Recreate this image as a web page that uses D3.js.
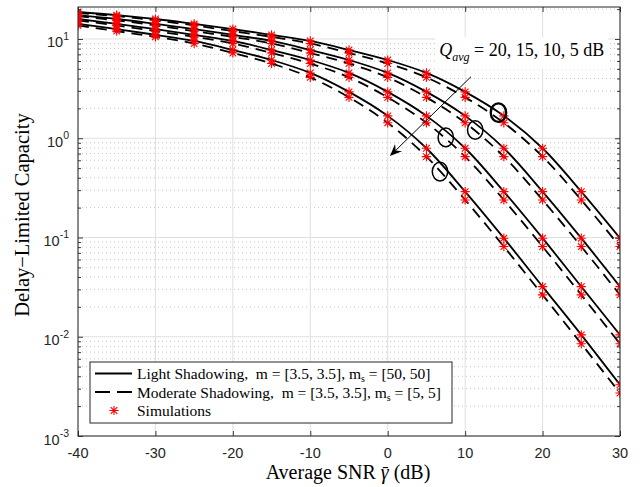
<!DOCTYPE html>
<html><head><meta charset="utf-8">
<script src="https://cdn.jsdelivr.net/npm/d3@7"></script>
<style>body{margin:0;background:#fff;} svg{display:block;}</style>
</head><body>
<svg id="c" width="643" height="487"></svg>
<script>
// ---------- data ----------
const snr = [-40,-35,-30,-25,-20,-15,-10,-5,0,5,10,15,20,25,30];
const qAvg = [20,15,10,5];
const light20    = [18.7,17.4,15.9,14.2,12.6,11.0,9.55,7.75,6.14,4.55,2.93,1.68,0.793,0.290,0.0984];
const moderate20 = [18.3,17.0,15.4,13.7,12.0,10.5,9.01,7.23,5.66,4.10,2.58,1.43,0.653,0.239,0.081];
const light15    = [17.4,15.9,14.2,12.6,11.0,9.55,7.75,6.14,4.55,2.93,1.68,0.793,0.290,0.0984,0.0320];
const moderate15 = [17.0,15.4,13.7,12.0,10.5,9.01,7.23,5.66,4.10,2.58,1.43,0.653,0.239,0.081,0.0264];
const light10    = [15.9,14.2,12.6,11.0,9.55,7.75,6.14,4.55,2.93,1.68,0.793,0.290,0.0984,0.0320,0.01045];
const moderate10 = [15.4,13.7,12.0,10.5,9.01,7.23,5.66,4.10,2.58,1.43,0.653,0.239,0.081,0.0264,0.00849];
const light5     = [14.2,12.6,11.0,9.55,7.75,6.14,4.55,2.93,1.68,0.793,0.290,0.0984,0.0320,0.01045,0.00328];
const moderate5  = [13.7,12.0,10.5,9.01,7.23,5.66,4.10,2.58,1.43,0.653,0.239,0.081,0.0264,0.00849,0.00271];
const xTickValues = [-40,-30,-20,-10,0,10,20,30];
const yTickExponents = [-3,-2,-1,0,1];
const circleX = [14.3,11.3,7.5,6.75];
const circleY = [1.81,1.21,1.02,0.461];
const arrowStart = [10.76,4.17];
const arrowEnd = [0.29,0.662];
const annotPos = [17.3,6.74];
const legendLabels = [
  ["Light Shadowing,\u00A0\u00A0m = [3.5, 3.5], m","s"," = [50, 50]"],
  ["Moderate Shadowing,\u00A0\u00A0m = [3.5, 3.5], m","s"," = [5, 5]"],
  ["Simulations","",""]
];

// ---------- layout ----------
const W=643,H=487, L=78, R=620, T=7, B=436;
const svg=d3.select("#c");
const x=d3.scaleLinear().domain([-40,30]).range([L,R]);
const y=d3.scaleLog().domain([1e-3,21]).range([B,T]);
const axisColor="#262626";
const serif="'Liberation Serif','Times New Roman',serif";
const sans="'Liberation Sans',Arial,Helvetica,sans-serif";
const dash="11,7";

svg.append("defs").append("clipPath").attr("id","clip")
  .append("rect").attr("x",L).attr("y",T).attr("width",R-L).attr("height",B-T);

// grid
const minorVals=[];
for(let e=-3;e<=1;e++) for(let k=2;k<=9;k++){const v=k*Math.pow(10,e); if(v<21) minorVals.push(v);}
const grid=svg.append("g");
grid.selectAll(".mn").data(minorVals).join("line")
  .attr("x1",L).attr("x2",R).attr("y1",d=>y(d)).attr("y2",d=>y(d))
  .attr("stroke","#c4c4c4").attr("stroke-width",1).attr("stroke-dasharray","1,3");
grid.selectAll(".mj").data(yTickExponents.map(e=>Math.pow(10,e))).join("line")
  .attr("x1",L).attr("x2",R).attr("y1",d=>y(d)).attr("y2",d=>y(d))
  .attr("stroke","#dfdfdf").attr("stroke-width",1);
grid.selectAll(".vx").data(xTickValues).join("line")
  .attr("x1",d=>x(d)).attr("x2",d=>x(d)).attr("y1",T).attr("y2",B)
  .attr("stroke","#dfdfdf").attr("stroke-width",1);

// curves
const series=[
  {q:qAvg[0],light:light20,moderate:moderate20},
  {q:qAvg[1],light:light15,moderate:moderate15},
  {q:qAvg[2],light:light10,moderate:moderate10},
  {q:qAvg[3],light:light5,moderate:moderate5}
];
const line=d3.line().x((d,i)=>x(snr[i])).y(d=>y(d)).curve(d3.curveCatmullRom.alpha(0.5));
const plot=svg.append("g").attr("clip-path","url(#clip)");
series.forEach(s=>{
  plot.append("path").attr("d",line(s.moderate)).attr("fill","none")
    .attr("stroke","#000").attr("stroke-width",1.8).attr("stroke-dasharray",dash);
  plot.append("path").attr("d",line(s.light)).attr("fill","none")
    .attr("stroke","#000").attr("stroke-width",1.8);
});
function starPath(cx,cy,r){
  const d=r*0.72;
  return `M${cx-r},${cy}L${cx+r},${cy}M${cx},${cy-r}L${cx},${cy+r}`+
         `M${cx-d},${cy-d}L${cx+d},${cy+d}M${cx-d},${cy+d}L${cx+d},${cy-d}`;
}
series.forEach(s=>{
  [s.light,s.moderate].forEach(arr=>{
    plot.append("g").selectAll("path").data(arr).join("path")
      .attr("d",(d,i)=>starPath(x(snr[i]),y(d),4.6))
      .attr("stroke","#ff0000").attr("stroke-width",1.1).attr("fill","none");
  });
});

// circles
plot.selectAll(".circ").data(circleX).join("ellipse")
  .attr("cx",d=>x(d)).attr("cy",(d,i)=>y(circleY[i]))
  .attr("rx",7.7).attr("ry",9.3).attr("fill","none").attr("stroke","#000")
  .attr("stroke-width",(d,i)=>i===0?2.3:1.5);

// arrow
const ax0=x(arrowStart[0]), ay0=y(arrowStart[1]), ax1=x(arrowEnd[0]), ay1=y(arrowEnd[1]);
const ang=Math.atan2(ay1-ay0,ax1-ax0);
const ux=Math.cos(ang), uy=Math.sin(ang), px=-uy, py=ux;
const hl=12, hw=5, nd=8;
svg.append("line").attr("x1",ax0).attr("y1",ay0).attr("x2",ax1-ux*nd).attr("y2",ay1-uy*nd)
  .attr("stroke","#000").attr("stroke-width",1);
svg.append("path").attr("d",
  `M${ax1},${ay1}L${ax1-ux*hl+px*hw},${ay1-uy*hl+py*hw}L${ax1-ux*nd},${ay1-uy*nd}L${ax1-ux*hl-px*hw},${ay1-uy*hl-py*hw}Z`)
  .attr("fill","#000");

// annotation text with white box
const ag=svg.append("g");
const abox=ag.append("rect").attr("fill","#fff");
const at=ag.append("text").attr("x",x(annotPos[0])).attr("y",y(annotPos[1]))
  .attr("text-anchor","middle").attr("font-family",serif).attr("font-size",18).attr("fill","#000");
at.append("tspan").attr("font-style","italic").text("Q");
at.append("tspan").attr("font-style","italic").attr("font-size",12).attr("dy",5).text("avg");
at.append("tspan").attr("dy",-5).text(" = 20, 15, 10, 5 dB");
const bb=at.node().getBBox();
abox.attr("x",bb.x-4).attr("y",bb.y-3).attr("width",bb.width+8).attr("height",bb.height+8);

// axes (inner ticks)
const majorY=yTickExponents.map(e=>Math.pow(10,e));
const axG=svg.append("g").attr("color",axisColor);
axG.append("g").attr("transform",`translate(0,${B})`)
  .call(d3.axisBottom(x).tickValues(xTickValues).tickSize(-5).tickFormat("").tickSizeOuter(0));
axG.append("g").attr("transform",`translate(0,${T})`)
  .call(d3.axisTop(x).tickValues(xTickValues).tickSize(-5).tickFormat("").tickSizeOuter(0));
axG.append("g").attr("transform",`translate(${L},0)`)
  .call(d3.axisLeft(y).tickValues(majorY).tickSize(-5).tickFormat("").tickSizeOuter(0));
axG.append("g").attr("transform",`translate(${L},0)`)
  .call(d3.axisLeft(y).tickValues(minorVals).tickSize(-3).tickFormat("").tickSizeOuter(0));
axG.append("g").attr("transform",`translate(${R},0)`)
  .call(d3.axisRight(y).tickValues(majorY).tickSize(-5).tickFormat("").tickSizeOuter(0));
axG.append("g").attr("transform",`translate(${R},0)`)
  .call(d3.axisRight(y).tickValues(minorVals).tickSize(-3).tickFormat("").tickSizeOuter(0));
axG.selectAll(".domain").remove();
axG.selectAll("line").attr("stroke",axisColor).attr("stroke-width",0.9);
svg.append("rect").attr("x",L).attr("y",T).attr("width",R-L).attr("height",B-T)
  .attr("fill","none").attr("stroke",axisColor).attr("stroke-width",1);

// tick labels
svg.append("g").selectAll("text").data(xTickValues).join("text")
  .attr("x",d=>x(d)).attr("y",B+22).attr("text-anchor","middle")
  .attr("font-family",sans).attr("font-size",14.5).attr("fill",axisColor)
  .text(d=>String(d));
const yl=svg.append("g").selectAll("text").data(yTickExponents).join("text")
  .attr("x",69).attr("y",d=>y(Math.pow(10,d))+8.5).attr("text-anchor","end")
  .attr("font-family",sans).attr("font-size",14.5).attr("fill",axisColor);
yl.append("tspan").text("10");
yl.append("tspan").attr("font-size",10.5).attr("dy",-7.5).text(d=>String(d));

// axis titles
const xPre="Average SNR ";
const xt=svg.append("text").attr("x",(L+R)/2-1).attr("y",479).attr("text-anchor","middle")
  .attr("font-family",serif).attr("font-size",20).attr("fill","#000");
xt.append("tspan").text(xPre);
xt.append("tspan").attr("font-style","italic").text("\u03B3");
xt.append("tspan").text("\u00A0(dB)");
const gx=xt.node().getExtentOfChar(xPre.length);
svg.append("line").attr("x1",gx.x+2).attr("x2",gx.x+gx.width-0.5)
  .attr("y1",gx.y+gx.height*0.3).attr("y2",gx.y+gx.height*0.3)
  .attr("stroke","#000").attr("stroke-width",1.1);
svg.append("text").attr("transform","translate(29,215) rotate(-90)").attr("text-anchor","middle")
  .attr("font-family",serif).attr("font-size",20.5).attr("fill","#000")
  .text("Delay\u2212Limited Capacity");

// legend
const lg=svg.append("g");
lg.append("rect").attr("x",90).attr("y",362).attr("width",362).attr("height",61)
  .attr("fill","#fff").attr("stroke",axisColor).attr("stroke-width",1);
const rowY=[373.5,392,410.5];
lg.append("line").attr("x1",95).attr("x2",132).attr("y1",rowY[0]).attr("y2",rowY[0])
  .attr("stroke","#000").attr("stroke-width",1.8);
lg.append("line").attr("x1",95).attr("x2",132).attr("y1",rowY[1]).attr("y2",rowY[1])
  .attr("stroke","#000").attr("stroke-width",1.8).attr("stroke-dasharray","15,7");
lg.append("path").attr("d",starPath(114,rowY[2],4.6)).attr("stroke","#ff0000")
  .attr("stroke-width",1.1).attr("fill","none");
legendLabels.forEach((lab,i)=>{
  const t=lg.append("text").attr("x",137).attr("y",rowY[i]+5.5)
    .attr("font-family",serif).attr("font-size",15.5).attr("fill","#000");
  t.append("tspan").text(lab[0]);
  if(lab[1]){
    t.append("tspan").attr("font-size",10).attr("dy",3).text(lab[1]);
    t.append("tspan").attr("dy",-3).text(lab[2]);
  }
});
</script>
</body></html>
